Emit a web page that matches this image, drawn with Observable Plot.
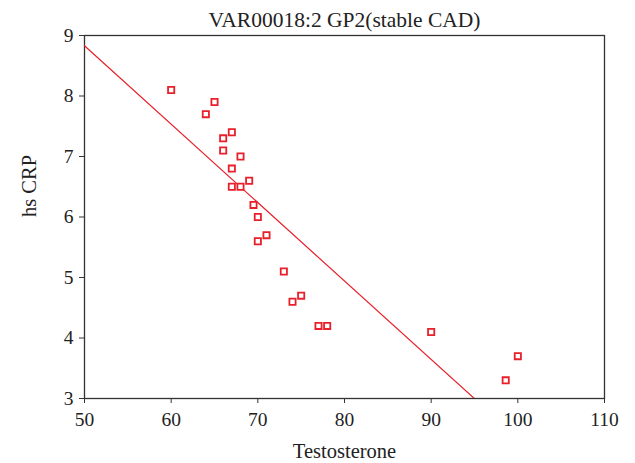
<!DOCTYPE html>
<html>
<head>
<meta charset="utf-8">
<script src="https://cdn.jsdelivr.net/npm/d3@7"></script>
<script src="https://cdn.jsdelivr.net/npm/@observablehq/plot@0.6"></script>
<style>
  html, body { margin: 0; padding: 0; background: #fff; }
  svg { font-family: "Liberation Serif", "DejaVu Serif", serif; }
</style>
</head>
<body>
<div id="chart"></div>
<script>
const title = "VAR00018:2 GP2(stable CAD)";
const testosterone = [60, 65, 64, 67, 66, 66, 68, 67, 69, 67, 68, 69.5, 70, 70, 71, 73, 74, 75, 77, 78, 90, 100, 98.6];
const hsCRP        = [8.1, 7.9, 7.7, 7.4, 7.3, 7.1, 7.0, 6.8, 6.6, 6.5, 6.5, 6.2, 6.0, 5.6, 5.7, 5.1, 4.6, 4.7, 4.2, 4.2, 4.1, 3.7, 3.3];
const fitIntercept = 15.31;
const fitSlope = -0.1296;
const xTicks = [50, 60, 70, 80, 90, 100, 110];
const yTicks = [3, 4, 5, 6, 7, 8, 9];

const points = testosterone.map((x, i) => ({x, y: hsCRP[i]}));
const fitLine = [xTicks[0], xTicks[xTicks.length - 1]].map(x => ({x, y: fitIntercept + fitSlope * x}));

const red = "#e8202a";
const axisColor = "#333";

const chart = Plot.plot({
  width: 635,
  height: 463,
  marginLeft: 84,
  marginRight: 31,
  marginTop: 35,
  marginBottom: 65,
  style: {fontFamily: "'Liberation Serif', 'DejaVu Serif', serif", fontSize: "19.5px", color: "#222", background: "#fff"},
  x: {domain: [50, 110]},
  y: {domain: [3, 9]},
  marks: [
    Plot.frame({stroke: axisColor, strokeWidth: 1.3}),
    Plot.axisX({ticks: xTicks, tickFormat: d3.format("d"), tickSize: 5, tickPadding: 9, stroke: axisColor, fontSize: 19.5, label: null}),
    Plot.axisY({ticks: yTicks, tickFormat: d3.format("d"), tickSize: 5, tickPadding: 6, stroke: axisColor, fontSize: 19.5, label: null}),
    Plot.text(["Testosterone"], {frameAnchor: "bottom", dy: 59, fontSize: 20.5, fill: "#222"}),
    Plot.text(["hs CRP"], {frameAnchor: "left", dx: -55, rotate: -90, fontSize: 20.5, fill: "#222"}),
    Plot.line(fitLine, {x: "x", y: "y", stroke: red, strokeWidth: 1.2, clip: true}),
    Plot.dot(points, {x: "x", y: "y", symbol: "square", r: 3.5, stroke: red, strokeWidth: 1.8, fill: "#fff"}),
    Plot.text([title], {frameAnchor: "top", dy: -24, fontSize: 21.5, fill: "#222"})
  ]
});
document.getElementById("chart").appendChild(chart);
</script>
</body>
</html>
